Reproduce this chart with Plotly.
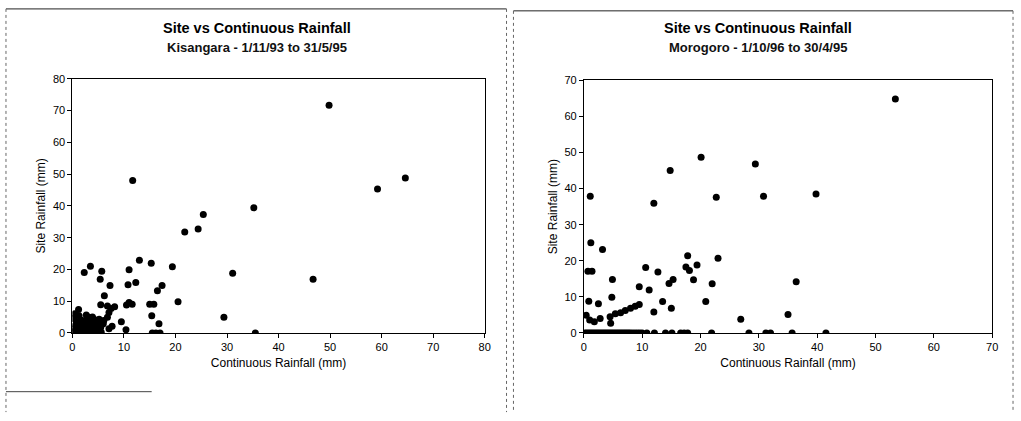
import plotly.graph_objects as go

# ---------------- Data: Kisangara (left) ----------------
kis_x = [0.2, 0.4, 0.5, 0.6, 0.8, 0.9, 1.0, 1.1, 1.3, 1.2, 1.4, 1.5, 1.7, 1.8, 2.0, 2.1,
         2.3, 2.5, 2.6, 2.8, 3.0, 3.1, 3.2, 3.4, 3.6, 3.8, 4.0, 4.2, 4.4, 4.6, 4.8, 5.0,
         5.2, 5.5, 6.1, 6.0, 0.3, 0.5, 2.7, 3.9, 5.6, 4.5,
         11.7, 25.4, 24.4, 21.8, 13.0, 15.3, 19.4, 3.5, 2.3, 5.7, 11.0, 5.4, 7.3, 10.8,
         12.3, 17.4, 16.5, 6.2, 20.5, 5.5, 8.2, 10.5, 11.0, 11.6, 15.0, 15.8, 7.5, 6.8,
         7.1, 6.8, 15.4, 9.5, 16.8, 7.7, 7.1, 10.4, 15.5, 16.2, 17.0, 29.4, 31.1, 35.2,
         46.7, 49.8, 59.2, 64.6, 35.5]
kis_y = [0.0, 0.5, 1.5, 2.5, 3.5, 0.0, 1.0, 2.0, 5.4, 7.4, 3.0, 0.5, 1.5, 4.0, 2.5, 0.0,
         3.5, 1.0, 2.0, 4.2, 0.3, 3.0, 4.9, 1.5, 2.5, 0.0, 3.5, 4.3, 1.2, 2.2, 0.4, 3.0,
         4.3, 1.8, 3.9, 2.9, 4.5, 6.0, 5.6, 5.0, 0.2, 0.0,
         48.0, 37.3, 32.7, 31.8, 22.9, 21.9, 20.8, 21.0, 19.0, 19.4, 19.9, 16.9, 14.9, 15.2,
         15.9, 14.9, 13.3, 11.7, 9.8, 8.9, 8.2, 8.8, 9.6, 9.0, 9.0, 9.0, 7.7, 8.5,
         6.4, 4.9, 5.4, 3.5, 2.9, 2.1, 1.3, 1.0, 0.0, 0.0, 0.0, 4.9, 18.8, 39.4,
         16.9, 71.7, 45.3, 48.8, 0.0]

# ---------------- Data: Morogoro (right) ----------------
mor_x = [53.4, 20.1, 14.8, 29.4, 12.0, 22.7, 30.8, 39.8, 17.8, 23.0, 10.6, 12.7, 17.5,
         18.1, 19.4, 18.8, 14.6, 15.3, 9.5, 11.2, 22.0, 36.4, 13.5, 12.0, 15.0, 20.9,
         26.9, 35.0,
         1.2, 3.2, 0.7, 1.4, 4.9, 4.8, 0.85, 2.5, 0.4, 1.0, 1.8, 2.8, 4.6, 4.5,
         5.4, 6.3, 7.1, 8.0, 8.8, 9.5, 1.1,
         0.2, 0.5, 0.8, 1.1, 1.4, 1.7, 2.0, 2.3, 2.6, 2.9, 3.2, 3.5, 3.8, 4.1, 4.4, 4.7,
         5.0, 5.3, 5.6, 5.9, 6.2, 6.5, 6.8, 7.1, 7.4, 7.7, 8.0, 8.4, 8.8, 9.2, 9.6, 10.0,
         10.8, 12.1, 14.0, 15.1, 16.6, 17.2, 17.8, 21.9, 28.3, 31.2, 32.0, 35.7, 41.5]
mor_y = [64.8, 48.7, 45.0, 46.8, 35.9, 37.6, 37.9, 38.5, 21.4, 20.7, 18.1, 16.9, 18.3,
         17.3, 18.8, 14.7, 13.7, 14.8, 12.8, 11.9, 13.6, 14.2, 8.7, 5.8, 6.8, 8.7,
         3.8, 5.1,
         25.0, 23.1, 17.1, 17.1, 14.8, 9.9, 8.8, 8.1, 4.9, 3.6, 3.1, 4.0, 2.7, 4.5,
         5.3, 5.6, 6.2, 6.8, 7.4, 7.9, 37.9,
         0.0, 0.0, 0.0, 0.0, 0.0, 0.0, 0.0, 0.0, 0.0, 0.0, 0.0, 0.0, 0.0, 0.0, 0.0, 0.0,
         0.0, 0.0, 0.0, 0.0, 0.0, 0.0, 0.0, 0.0, 0.0, 0.0, 0.0, 0.0, 0.0, 0.0, 0.0, 0.0,
         0.0, 0.0, 0.0, 0.0, 0.0, 0.0, 0.0, 0.0, 0.0, 0.0, 0.0, 0.0, 0.0]

kis_xticks = [0, 10, 20, 30, 40, 50, 60, 70, 80]
kis_yticks = [0, 10, 20, 30, 40, 50, 60, 70, 80]
mor_xticks = [0, 10, 20, 30, 40, 50, 60, 70]
mor_yticks = [0, 10, 20, 30, 40, 50, 60, 70]

titles = ["Site vs Continuous Rainfall", "Site vs Continuous Rainfall"]
subtitles = ["Kisangara - 1/11/93 to 31/5/95", "Morogoro - 1/10/96 to 30/4/95"]
xlabel = "Continuous Rainfall (mm)"
ylabel = "Site Rainfall (mm)"

W, H = 1021, 421
FONT = "Arial, Liberation Sans, sans-serif"

fig = go.Figure()
marker = dict(color="black", size=7, symbol="circle", line=dict(width=0))
fig.add_trace(go.Scatter(x=kis_x, y=kis_y, mode="markers", marker=marker,
                         xaxis="x", yaxis="y", showlegend=False))
fig.add_trace(go.Scatter(x=mor_x, y=mor_y, mode="markers", marker=marker,
                         xaxis="x2", yaxis="y2", showlegend=False))

def px_x(p):
    return p / W

def px_y(p):
    return 1 - p / H

axis_common = dict(showgrid=False, zeroline=False, showline=True, linecolor="black",
                   linewidth=1, mirror=True, ticks="outside", ticklen=4,
                   tickcolor="black", tickfont=dict(family=FONT, size=11, color="black"),
                   title_font=dict(family=FONT, size=12, color="black"))

fig.update_layout(
    width=W, height=H,
    margin=dict(l=0, r=0, t=0, b=0),
    paper_bgcolor="white", plot_bgcolor="white",
    xaxis=dict(domain=[px_x(70), px_x(486)], range=[0, 80], tickvals=kis_xticks,
               anchor="y", title=dict(text=xlabel, standoff=6), **axis_common),
    yaxis=dict(domain=[px_y(336.5), px_y(75)], range=[0, 80], tickvals=kis_yticks,
               anchor="x", title=dict(text=ylabel, standoff=4), **axis_common),
    xaxis2=dict(domain=[px_x(586), px_x(998)], range=[0, 70], tickvals=mor_xticks,
                anchor="y2", title=dict(text=xlabel, standoff=6), **axis_common),
    yaxis2=dict(domain=[px_y(336.5), px_y(76.5)], range=[0, 70], tickvals=mor_yticks,
                anchor="x2", title=dict(text=ylabel, standoff=4), **axis_common),
)

centers = [256, 762]
for c, t, s in zip(centers, titles, subtitles):
    fig.add_annotation(x=px_x(c), y=px_y(23), xref="paper", yref="paper",
                       text="<b>" + t + "</b>", showarrow=False,
                       font=dict(family=FONT, size=14.5, color="black"),
                       xanchor="center", yanchor="middle")
    fig.add_annotation(x=px_x(c), y=px_y(43), xref="paper", yref="paper",
                       text="<b>" + s + "</b>", showarrow=False,
                       font=dict(family=FONT, size=13, color="#111"),
                       xanchor="center", yanchor="middle")

# chart-area frames (Excel style)
for x0, x1, yt in [(3, 508, 3), (515, 1019, 5)]:
    fig.add_shape(type="line", xref="paper", yref="paper",
                  x0=px_x(x0), x1=px_x(x1), y0=px_y(yt), y1=px_y(yt),
                  line=dict(color="#222", width=1))
    for xv in (x0, x1):
        fig.add_shape(type="line", xref="paper", yref="paper",
                      x0=px_x(xv), x1=px_x(xv), y0=px_y(yt), y1=px_y(418),
                      line=dict(color="#666", width=1, dash="dot"))
fig.add_shape(type="line", xref="paper", yref="paper",
              x0=px_x(3), x1=px_x(150), y0=px_y(397), y1=px_y(397),
              line=dict(color="#444", width=1))

fig.write_html("out.html", config={"displayModeBar": False},
               post_script="document.body.style.margin='0';document.body.style.overflow='hidden';")
